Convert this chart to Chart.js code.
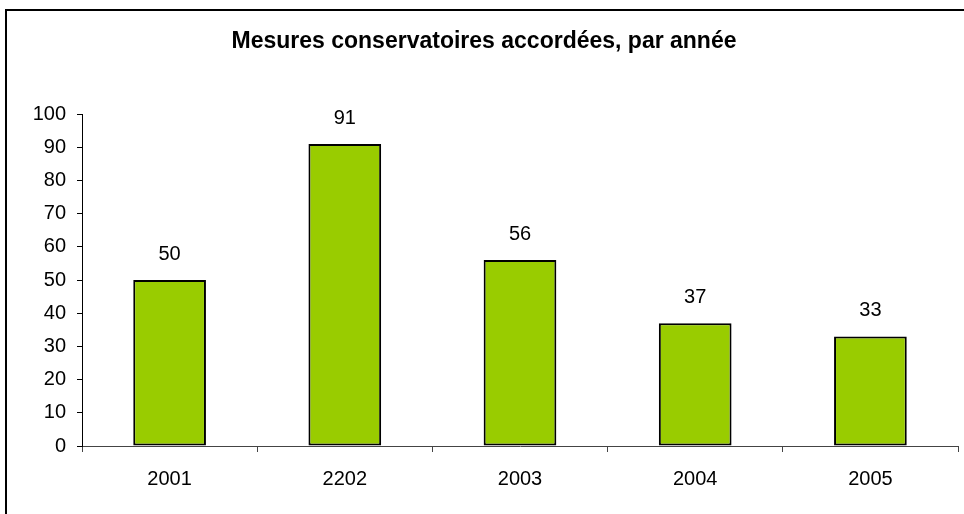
<!DOCTYPE html>
<html>
<head>
<meta charset="utf-8">
<script src="https://cdn.jsdelivr.net/npm/chart.js@4"></script>
<style>
  html, body { margin: 0; padding: 0; background: #fff; }
  #wrap { width: 964px; height: 514px; position: relative; }
</style>
</head>
<body>
<div id="wrap"><canvas id="chart" width="964" height="514"></canvas></div>
<script>
// chart data
const years = ["2001", "2202", "2003", "2004", "2005"];
const mesures = [50, 91, 56, 37, 33];
const yTicks = [0, 10, 20, 30, 40, 50, 60, 70, 80, 90, 100];
const chartTitle = "Mesures conservatoires accordées, par année";

const FONT = "'Liberation Sans', Arial, sans-serif";

// frame, title and value labels above the bars
const decorations = {
  id: "decorations",
  afterDraw(chart) {
    const ctx = chart.ctx;
    ctx.save();
    ctx.strokeStyle = "#000";
    ctx.lineWidth = 2;
    ctx.beginPath();
    ctx.moveTo(6, 514);
    ctx.lineTo(6, 10);
    ctx.lineTo(964, 10);
    ctx.stroke();

    ctx.fillStyle = "#000";
    ctx.textAlign = "center";
    ctx.textBaseline = "middle";
    ctx.font = "bold 23px " + FONT;
    ctx.fillText(chartTitle, 484, 42);

    ctx.font = "20px " + FONT;
    ctx.textBaseline = "alphabetic";
    const meta = chart.getDatasetMeta(0);
    meta.data.forEach((bar, i) => {
      ctx.fillText(String(mesures[i]), bar.x, bar.y - 20);
    });
    ctx.restore();
  },
};

new Chart(document.getElementById("chart").getContext("2d"), {
  type: "bar",
  data: {
    labels: years,
    datasets: [
      {
        data: mesures,
        backgroundColor: "#99CC00",
        borderColor: "#000",
        borderWidth: 2,
        borderSkipped: false,
        barPercentage: 0.415,
        categoryPercentage: 1,
      },
    ],
  },
  options: {
    responsive: false,
    animation: false,
    layout: {
      padding: { left: 0, right: 6, top: 114, bottom: 0 },
    },
    plugins: {
      legend: { display: false },
      title: { display: false },
      tooltip: { enabled: false },
    },
    scales: {
      x: {
        afterFit: (scale) => { scale.height = 68; },
        grid: {
          offset: true,
          drawOnChartArea: false,
          drawTicks: true,
          tickLength: 6,
          color: "#444",
        },
        border: { color: "#444", width: 1 },
        ticks: {
          color: "#000",
          padding: 15,
          font: { family: FONT, size: 20 },
        },
      },
      y: {
        min: 0,
        max: 100,
        afterFit: (scale) => { scale.width = 82; },
        afterBuildTicks: (scale) => {
          scale.ticks = yTicks.map((v) => ({ value: v }));
        },
        grid: {
          drawOnChartArea: false,
          drawTicks: true,
          tickLength: 5,
          color: "#000",
        },
        border: { color: "#000", width: 1 },
        ticks: {
          color: "#000",
          padding: 11,
          font: { family: FONT, size: 20 },
        },
      },
    },
  },
  plugins: [decorations],
});
</script>
</body>
</html>
